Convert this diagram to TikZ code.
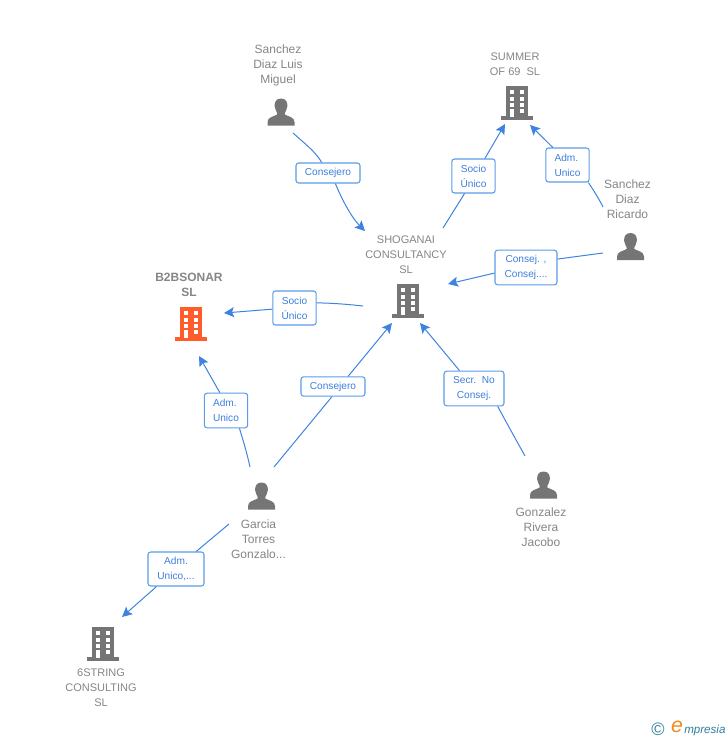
\documentclass[tikz,border=0pt]{standalone}
\usepackage{fontspec}
\setmainfont{Liberation Sans}
\usetikzlibrary{arrows.meta}
\definecolor{linkblue}{HTML}{3F83E0}
\definecolor{boxblue}{HTML}{5B9BE8}
\definecolor{labelblue}{HTML}{3F7FDC}
\definecolor{icongrey}{HTML}{757575}
\definecolor{namegrey}{HTML}{858585}
\definecolor{sonarred}{HTML}{FF5B2B}
\definecolor{logoteal}{HTML}{2F7F9A}
\definecolor{logoorange}{HTML}{F08A1E}
\tikzset{
  person/.style={font=\fontsize{9}{11.25}\selectfont,text=namegrey,align=center,inner sep=0.75pt},
  firm/.style={font=\fontsize{8.25}{11.25}\selectfont,text=namegrey,align=center,inner sep=0.75pt},
  role/.style={draw=boxblue,line width=0.8pt,fill=white,rounded corners=2pt,font=\fontsize{7.6}{11.25}\selectfont,text=labelblue,inner sep=0pt},
  link/.style={draw=linkblue,line width=0.75pt},
  linkarrow/.style={link,-{Stealth[length=7.5pt,width=7.5pt,inset=1.5pt]}},
  pics/buildingicon/.style={code={
    \begin{scope}[yscale=-1]
    \fill[#1] (-11,-16) rectangle (11,15);
    \fill[#1] (-16,14) rectangle (16,17.5);
    \foreach \ypos in {-12,-5.5,1}{
      \fill[white] (-7.5,\ypos) rectangle (-2.8,\ypos+4.2);
      \fill[white] (2.5,\ypos) rectangle (7.2,\ypos+4.2);
    }
    \fill[white] (-7.5,7) rectangle (-2.8,14.5);
    \fill[white] (2.5,7) rectangle (7.2,11.2);
    \end{scope}
  }},
  pics/personicon/.style={code={
    \begin{scope}[yscale=-1]
    \fill[icongrey] (0,-13.5) .. controls (5,-13.5) and (6.8,-9.5) .. (6.3,-5.5) .. controls (5.8,-2.5) and (4.5,-0.5) .. (3.8,1) -- (3.8,2.5) .. controls (7,4.5) and (13.5,5) .. (13.5,10) -- (13.5,13.5) -- (-13.5,13.5) -- (-13.5,10) .. controls (-13.5,5) and (-7,4.5) .. (-3.8,2.5) -- (-3.8,1) .. controls (-4.5,-0.5) and (-5.8,-2.5) .. (-6.3,-5.5) .. controls (-6.8,-9.5) and (-5,-13.5) .. (0,-13.5) -- cycle;
    \end{scope}
  }},
}

\begin{document}
\begin{tikzpicture}[x=0.75pt,y=0.75pt,yscale=-1,xscale=1]
\useasboundingbox (0,0) rectangle (728,740);

%Icons
\pic at (281,112) {personicon};
\pic at (517,102) {buildingicon=icongrey};
\pic at (630.5,246.5) {personicon};
\pic at (408,300) {buildingicon=icongrey};
\pic at (191,323) {buildingicon=sonarred};
\pic at (261.5,496) {personicon};
\pic at (543.5,485) {personicon};
\pic at (103,643) {buildingicon=icongrey};

%Names
\node[person] (luis) at (278,65) {Sanchez\\Diaz Luis\\Miguel};
\node[firm] (summer) at (515,63.8) {SUMMER\\OF 69\ \ SL};
\node[person] (ricardo) at (627.5,199.3) {Sanchez\\Diaz\\Ricardo};
\node[firm] (shoganai) at (406,254.3) {SHOGANAI\\CONSULTANCY\\SL};
\node[firm,font=\fontsize{9}{11.25}\selectfont\bfseries] (sonar) at (189,284.8) {B2BSONAR\\SL};
\node[person] (garcia) at (258.5,539.3) {Garcia\\Torres\\Gonzalo...};
\node[person] (gonzalez) at (541,527.3) {Gonzalez\\Rivera\\Jacobo};
\node[firm] (string) at (101,688) {6STRING\\CONSULTING\\SL};

%Role boxes
\node[role,minimum width=48pt,minimum height=15pt] (consejeroA) at (328,173) {Consejero};
\node[role,minimum width=32.5pt,minimum height=25.5pt,align=center] (socioA) at (473.5,176) {Socio\\Único};
\node[role,minimum width=32.5pt,minimum height=25.5pt,align=left] (admA) at (567.5,165) {Adm.\\Unico};
\node[role,minimum width=46.5pt,minimum height=26pt,align=center] (consej) at (526,267.5) {Consej. ,\\Consej....};
\node[role,minimum width=32.5pt,minimum height=25.5pt,align=center] (socioB) at (294.5,308) {Socio\\Único};
\node[role,minimum width=48pt,minimum height=14.5pt] (consejeroB) at (333,386.5) {Consejero};
\node[role,minimum width=32.5pt,minimum height=26pt,align=left] (admB) at (226,410.5) {Adm.\\Unico};
\node[role,minimum width=45pt,minimum height=26pt,align=center] (secr) at (474,388.5) {Secr.\ \ No\\Consej.};
\node[role,minimum width=42pt,minimum height=25.5pt,align=center] (admC) at (176,569) {Adm.\\Unico,...};

%Free ends of the links
\coordinate (luisout) at (293,133);
\coordinate (shoganaiinA) at (365,231);
\coordinate (shoganaioutA) at (443,228);
\coordinate (summerinA) at (505,124);
\coordinate (ricardooutA) at (603,207);
\coordinate (summerinB) at (530,125);
\coordinate (ricardooutB) at (603,253);
\coordinate (shoganaiinB) at (448,284);
\coordinate (shoganaioutB) at (363,306);
\coordinate (sonarinA) at (224,313);
\coordinate (garciaoutA) at (250,467);
\coordinate (sonarinB) at (199,356);
\coordinate (garciaoutB) at (274,467);
\coordinate (shoganaiinC) at (392,323);
\coordinate (gonzalezout) at (525,456);
\coordinate (shoganaiinD) at (420,323);
\coordinate (garciaoutC) at (229,524);
\coordinate (stringin) at (122,617);

%Links
\draw[link] (luisout) .. controls (304,143) and (316,152) .. (consejeroA.121);
\draw[linkarrow] (consejeroA.305) .. controls (342,200) and (352,218) .. (shoganaiinA);
\draw[link] (shoganaioutA) -- (socioA.243);
\draw[linkarrow] (socioA.57) -- (summerinA);
\draw[link] (ricardooutA) .. controls (599,199) and (594,191) .. (admA.320);
\draw[linkarrow] (admA.130) -- (summerinB);
\draw[link] (ricardooutB) -- (consej.15);
\draw[linkarrow] (consej.190) -- (shoganaiinB);
\draw[link] (shoganaioutB) .. controls (345,304) and (330,303) .. (socioB.13);
\draw[linkarrow] (socioB.183) -- (sonarinA);
\draw[link] (garciaoutA) .. controls (247,453) and (243,440) .. (admB.307);
\draw[linkarrow] (admB.109) -- (sonarinB);
\draw[link] (garciaoutB) -- (consejeroB.264);
\draw[linkarrow] (consejeroB.34) -- (shoganaiinC);
\draw[link] (gonzalezout) .. controls (515,438) and (505,420) .. (secr.323);
\draw[linkarrow] (secr.129) -- (shoganaiinD);
\draw[link] (garciaoutC) -- (admC.41);
\draw[linkarrow] (admC.222) -- (stringin);

%Logo
\node[inner sep=0pt,text=logoteal,font=\fontsize{13.5}{13.5}\selectfont] (copysign) at (658,729) {\textcopyright};
\node[inner sep=0pt,text=logoorange,font=\fontsize{16}{16}\selectfont\itshape] (logoe) at (677,727) {e};
\node[inner sep=0pt,text=logoteal,font=\fontsize{8.7}{10}\selectfont\itshape,anchor=west] (logotext) at (684,730) {mpresia};
\end{tikzpicture}
\end{document}
